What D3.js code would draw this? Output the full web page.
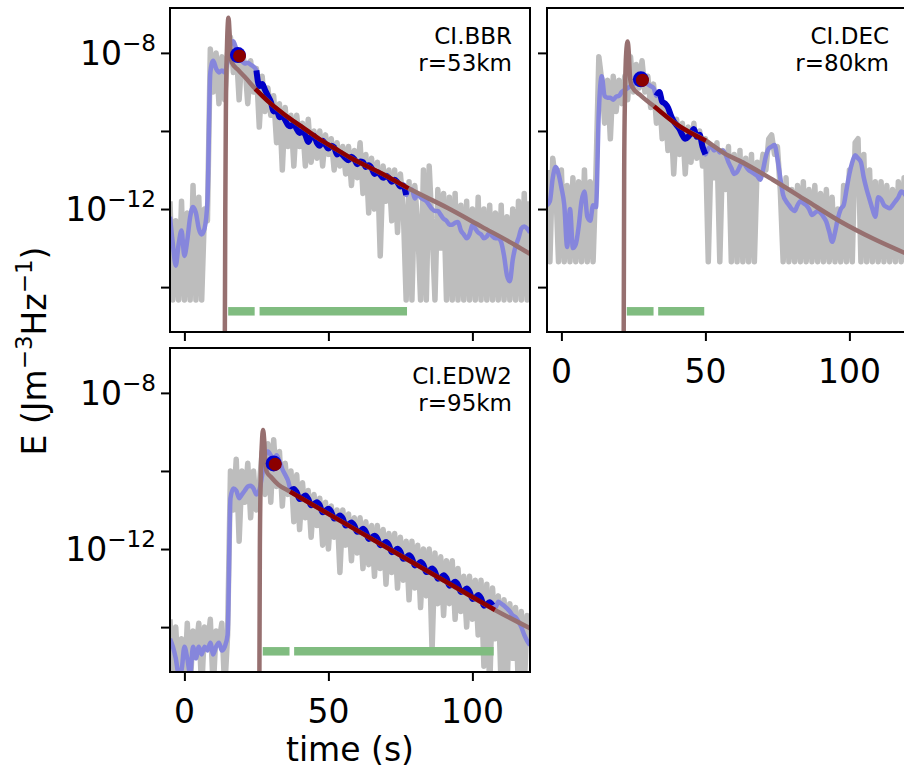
<!DOCTYPE html>
<html><head><meta charset="utf-8">
<script src="https://cdn.jsdelivr.net/npm/d3@7"></script>
<style>
body{margin:0;background:#fff}
svg{display:block}
text{font-family:"DejaVu Sans",sans-serif;fill:#000}
</style>
</head><body>
<svg id="chart" width="904" height="776"></svg>
<script>
// ---------------- DATA ----------------
const timeSec = d3.range(-5, 121);           // sample times (s) for envelopes
const stations = ["CI.BBR", "CI.DEC", "CI.EDW2"];
const distLabels = ["r=53km", "r=80km", "r=95km"];
const xTickValues = [0, 50, 100];
const yTickValues = [1e-8, 1e-10, 1e-12, 1e-14];
const yTickLabelExps = [-8, -12];
const windowBarLevel = 10 ** -14.62;

// log10 of raw envelope E (gray), t = -5..120 s
const bbrRawExp = [
 -11.8,-14.33,-12.3,-14.33,-11.8,-14.33,-12.1,-14.33,-11.4,-14.33,
 -11.7,-14.33,-12.0,-12.3,-7.9,-9.0,-8.0,-9.3,-8.1,-9.2,
 -8.0,-7.6,-8.5,-7.9,-9.2,-8.0,-8.3,-9.3,-8.2,-9.0,
 -8.4,-9.9,-8.6,-9.5,-8.9,-9.6,-9.1,-10.3,-9.3,-11.0,
 -9.4,-10.4,-9.6,-10.9,-9.6,-10.4,-9.8,-10.9,-9.7,-10.8,
 -10.0,-10.7,-10.0,-10.9,-10.1,-10.6,-10.2,-11.0,-10.3,-10.9,
 -10.4,-11.1,-10.4,-11.4,-10.5,-11.2,-10.3,-11.6,-10.6,-12.1,
 -10.7,-12.0,-10.8,-13.2,-10.9,-11.8,-11.0,-12.3,-11.0,-12.6,
 -11.1,-12.0,-14.33,-11.3,-14.33,-11.4,-12.4,-14.33,-11.0,-14.33,
 -10.9,-12.5,-14.33,-11.5,-13.0,-11.6,-14.33,-11.7,-14.33,-11.6,
 -14.33,-11.9,-14.33,-11.8,-14.33,-12.0,-14.33,-11.7,-14.33,-12.0,
 -14.33,-11.9,-14.33,-12.1,-14.33,-11.9,-14.33,-12.2,-14.33,-12.0,
 -14.33,-11.8,-14.33,-11.6,-14.33,-11.8
];
const decRawExp = [
 -11.0,-13.35,-10.7,-11.3,-13.35,-11.0,-13.35,-11.4,-13.35,-11.2,
 -13.35,-11.3,-13.35,-11.0,-13.35,-11.3,-13.35,-11.1,-8.1,-8.7,
 -9.8,-8.7,-10.2,-8.6,-9.5,-8.7,-9.3,-8.6,-9.2,-8.1,
 -9.0,-8.3,-8.9,-8.2,-9.0,-8.6,-9.4,-8.8,-9.8,-9.0,
 -10.2,-9.3,-10.5,-9.6,-11.1,-9.7,-10.6,-9.8,-11.1,-9.9,
 -10.8,-9.8,-10.7,-10.0,-10.9,-10.2,-13.35,-10.4,-11.2,-10.3,
 -13.35,-10.5,-11.5,-10.4,-13.35,-10.6,-13.35,-10.5,-13.35,-10.7,
 -13.35,-10.6,-13.35,-10.8,-11.2,-10.6,-11.0,-10.2,-10.1,-10.6,
 -10.4,-11.5,-13.35,-11.2,-13.35,-11.5,-13.35,-11.4,-13.35,-11.3,
 -13.35,-11.5,-13.35,-11.4,-13.35,-11.6,-13.35,-11.5,-13.35,-11.7,
 -13.35,-12.0,-13.35,-11.4,-13.35,-11.0,-13.35,-10.3,-10.2,-13.35,
 -10.6,-13.35,-11.0,-13.35,-11.3,-13.35,-11.3,-13.35,-11.4,-13.35,
 -11.5,-13.35,-11.3,-13.35,-11.2,-11.5
];
const edwRawExp = [
 -13.8,-15.6,-14.0,-15.6,-14.3,-15.6,-13.9,-15.6,-14.1,-14.6,
 -13.9,-15.6,-14.0,-14.5,-13.8,-15.6,-14.1,-14.4,-13.9,-15.6,
 -14.2,-10.0,-11.0,-9.7,-11.8,-10.0,-10.8,-9.8,-11.2,-10.0,
 -11.0,-10.4,-9.5,-10.6,-9.3,-10.8,-9.2,-10.4,-9.5,-10.9,
 -9.8,-10.6,-10.0,-11.3,-10.1,-11.5,-10.3,-11.2,-10.5,-11.7,
 -10.6,-11.4,-10.7,-11.9,-10.8,-12.0,-10.9,-11.7,-11.0,-12.6,
 -11.0,-11.9,-11.1,-12.3,-11.2,-12.1,-11.2,-12.5,-11.3,-12.4,
 -11.4,-12.7,-11.4,-12.5,-11.5,-12.9,-11.6,-12.6,-11.6,-13.0,
 -11.7,-12.8,-11.8,-13.3,-11.8,-13.0,-11.9,-13.5,-12.0,-13.2,
 -12.0,-14.6,-12.1,-13.4,-12.2,-13.7,-12.3,-13.4,-12.3,-13.8,
 -12.5,-13.6,-12.7,-14.0,-12.7,-13.8,-12.8,-14.2,-12.8,-15.0,
 -12.9,-15.6,-13.0,-14.3,-13.2,-15.6,-13.3,-15.6,-13.4,-14.8,
 -13.5,-15.6,-13.6,-15.6,-13.7,-14.4
];

// log10 of smoothed envelope (blue), t = -5..120 s
const bbrSmoothExp = [
 -12.2,-12.9,-13.45,-12.9,-12.55,-13.2,-12.8,-12.2,-11.95,-12.1,
 -12.5,-12.65,-12.5,-11.8,-8.5,-8.2,-8.4,-8.5,-8.45,-8.5,
 -8.2,-7.8,-7.7,-7.9,-8.05,-8.2,-8.27,-8.25,-8.3,-8.35,
 -8.45,-8.85,-8.8,-8.95,-9.1,-9.25,-9.5,-9.45,-9.65,-9.6,
 -9.72,-9.85,-9.88,-9.8,-9.95,-10.05,-10.0,-10.1,-10.28,-10.15,
 -10.12,-10.3,-10.38,-10.25,-10.35,-10.45,-10.38,-10.42,-10.6,-10.55,
 -10.62,-10.7,-10.75,-10.66,-10.72,-10.85,-10.78,-10.8,-10.92,-10.88,
 -10.95,-11.1,-11.05,-11.12,-11.2,-11.15,-11.2,-11.3,-11.25,-11.32,
 -11.42,-11.4,-11.64,-11.5,-11.5,-11.73,-11.6,-11.7,-11.75,-11.8,
 -11.9,-12.0,-12.05,-12.05,-12.15,-12.25,-12.3,-12.4,-12.4,-12.35,
 -12.33,-12.55,-12.65,-12.75,-12.65,-12.4,-12.5,-12.6,-12.65,-12.75,
 -12.7,-12.6,-12.7,-12.75,-12.75,-12.85,-13.2,-13.7,-13.85,-13.3,
 -12.95,-12.75,-12.5,-12.45,-12.5,-12.6
];
const decSmoothExp = [
 -11.9,-11.8,-11.2,-10.92,-11.1,-11.45,-11.9,-12.97,-12.0,-13.0,
 -12.9,-12.45,-11.8,-11.55,-12.2,-12.3,-11.9,-11.95,-9.5,-8.6,
 -9.1,-9.15,-9.15,-9.2,-9.12,-9.1,-9.0,-8.95,-8.9,-8.85,
 -8.8,-8.75,-8.7,-8.7,-8.75,-8.8,-8.85,-8.9,-9.1,-9.0,
 -9.25,-9.3,-9.4,-9.6,-9.75,-9.85,-9.95,-10.1,-10.2,-10.15,
 -10.05,-9.95,-10.15,-10.1,-10.4,-10.6,-10.45,-10.4,-10.5,-10.45,
 -10.55,-10.5,-10.6,-10.8,-10.95,-11.1,-11.05,-10.9,-10.8,-10.9,
 -11.0,-11.05,-11.1,-11.15,-11.25,-11.0,-10.65,-10.45,-10.4,-10.36,
 -10.7,-11.2,-11.64,-11.8,-11.9,-12.0,-12.05,-11.9,-11.8,-11.85,
 -11.9,-12.0,-12.15,-12.1,-12.05,-12.1,-12.2,-12.33,-12.58,-12.84,
 -12.6,-12.24,-12.0,-11.9,-11.5,-11.1,-10.8,-10.62,-10.7,-10.8,
 -11.2,-11.5,-11.75,-12.0,-12.2,-11.7,-11.75,-11.9,-11.95,-11.98,
 -11.9,-11.8,-11.7,-11.55,-11.6,-11.7
];
const edwSmoothExp = [
 -14.3,-14.5,-14.8,-15.2,-15.1,-14.5,-14.8,-15.2,-14.5,-14.8,
 -14.5,-14.7,-14.5,-14.6,-14.4,-14.7,-14.5,-14.4,-14.6,-14.5,
 -14.2,-10.7,-10.45,-10.5,-10.7,-10.6,-10.5,-10.4,-10.38,-10.45,
 -10.6,-10.5,-10.1,-9.6,-9.5,-9.6,-9.75,-9.6,-9.75,-9.95,
 -10.1,-10.25,-10.5,-10.46,-10.55,-10.72,-10.68,-10.63,-10.72,-10.88,
 -10.85,-10.8,-10.88,-11.06,-11.02,-10.97,-11.05,-11.22,-11.2,-11.14,
 -11.22,-11.4,-11.37,-11.32,-11.4,-11.56,-11.55,-11.48,-11.56,-11.74,
 -11.71,-11.66,-11.73,-11.9,-11.88,-11.82,-11.9,-12.08,-12.05,-11.99,
 -12.07,-12.25,-12.22,-12.16,-12.24,-12.42,-12.4,-12.33,-12.41,-12.59,
 -12.56,-12.5,-12.58,-12.76,-12.74,-12.67,-12.75,-12.94,-12.9,-12.84,
 -12.92,-13.1,-13.08,-13.01,-13.09,-13.28,-13.25,-13.18,-13.26,-13.45,
 -13.42,-13.36,-13.44,-13.5,-13.35,-13.4,-13.45,-13.52,-13.6,-13.7,
 -13.75,-13.86,-14.0,-14.2,-14.35,-14.46
];

// model curves (brown): times and log10 E
const bbrModelT   = [14.0,14.2,14.4,14.8,15.3,15.7,16.1,16.5,18.7,21.0,24.6,29.2,34.9,40.7,46.5,52.3,57.5,68.5,77.8,91.6,103.2,114.8,120];
const bbrModelExp = [-16,-12,-9.5,-7.8,-7.1,-7.5,-8.1,-8.25,-8.44,-8.62,-8.92,-9.25,-9.59,-9.89,-10.19,-10.45,-10.68,-11.09,-11.47,-11.98,-12.45,-12.92,-13.15];
const decModelT   = [21.6,21.8,22.1,22.5,23.0,23.4,23.8,24.4,27.7,32.2,40.4,50.2,57.2,61.7,73.4,85.0,96.4,108.0,120];
const decModelExp = [-16,-11,-9.0,-8.0,-7.71,-8.0,-8.6,-8.85,-9.1,-9.37,-9.85,-10.25,-10.6,-10.76,-11.25,-11.78,-12.3,-12.75,-13.15];
const edwModelT   = [26.0,26.2,26.5,26.9,27.3,27.7,28.1,28.6,30.0,32.6,36.7,57.5,82.4,107.8,120];
const edwModelExp = [-16,-12,-10.2,-9.3,-8.95,-9.2,-9.8,-10.02,-10.15,-10.35,-10.53,-11.42,-12.48,-13.56,-14.03];

// fit windows (s), peak markers [t, log10 E], green window bars [start, end]
const bbrFitWindow = [24.6, 77.8];
const decFitWindow = [32.2, 50.2];
const edwFitWindow = [36.7, 107.8];
const bbrPeak = [19.0, -8.07];
const decPeak = [28.0, -8.69];
const edwPeak = [31.4, -9.82];
const bbrBars = [[15.2, 24.4], [26.1, 77.3]];
const decBars = [[22.7, 32.0], [33.6, 49.6]];
const edwBars = [[27.2, 36.5], [38.1, 107.4]];

// ---------------- DRAW ----------------
const svg = d3.select("#chart");
svg.append("rect").attr("width", 904).attr("height", 776).attr("fill", "#fff");

const panelW = 360, panelH = 324;
const xDomain = [-5, 120];
const yDomain = [10 ** -15.15, 10 ** -6.85];
const C = {
  gray: "#bdbdbd", smooth: "#8686dc", fitBlue: "#0000c8",
  model: "#977070", fit: "#8b0000", bar: "#80bc80"
};

const panels = [
  {name: stations[0], dist: distLabels[0], left: 170, top: 8, raw: bbrRawExp, smooth: bbrSmoothExp,
   mT: bbrModelT, mE: bbrModelExp, fit: bbrFitWindow, peak: bbrPeak, bars: bbrBars, yLab: true, xLab: false},
  {name: stations[1], dist: distLabels[1], left: 547, top: 8, raw: decRawExp, smooth: decSmoothExp,
   mT: decModelT, mE: decModelExp, fit: decFitWindow, peak: decPeak, bars: decBars, yLab: false, xLab: true},
  {name: stations[2], dist: distLabels[2], left: 170, top: 348, raw: edwRawExp, smooth: edwSmoothExp,
   mT: edwModelT, mE: edwModelExp, fit: edwFitWindow, peak: edwPeak, bars: edwBars, yLab: true, xLab: true}
];

function supText(sel, base, sup, fs) {
  sel.append("tspan").text(base);
  sel.append("tspan").attr("font-size", fs * 0.7).attr("dy", -fs * 0.42).text(sup);
}

panels.forEach((p, idx) => {
  const x = d3.scaleLinear().domain(xDomain).range([p.left, p.left + panelW]);
  const y = d3.scaleLog().domain(yDomain).range([p.top + panelH, p.top]);
  const clipId = "clip" + idx;
  svg.append("clipPath").attr("id", clipId).append("rect")
    .attr("x", p.left).attr("y", p.top).attr("width", panelW).attr("height", panelH);
  const g = svg.append("g").attr("clip-path", `url(#${clipId})`);
  const line = d3.line().x(d => x(d[0])).y(d => y(d[1]));
  const smoothLine = d3.line().x(d => x(d[0])).y(d => y(d[1])).curve(d3.curveMonotoneX);

  const rawPts = timeSec.map((t, i) => [t, 10 ** p.raw[i]]);
  const smPts = timeSec.map((t, i) => [t, 10 ** p.smooth[i]]);
  const modelPts = p.mT.map((t, i) => [t, 10 ** p.mE[i]]);
  const fitSm = smPts.filter(d => d[0] >= p.fit[0] && d[0] <= p.fit[1]);
  const fitModel = modelPts.filter(d => d[0] >= p.fit[0] - 1e-9 && d[0] <= p.fit[1] + 1e-9);

  g.append("path").attr("d", line(rawPts)).attr("fill", "none")
    .attr("stroke", C.gray).attr("stroke-width", 5.5).attr("stroke-linejoin", "round");
  g.append("path").attr("d", smoothLine(smPts)).attr("fill", "none")
    .attr("stroke", C.smooth).attr("stroke-width", 4.5).attr("stroke-linejoin", "round");
  g.append("path").attr("d", smoothLine(fitSm)).attr("fill", "none")
    .attr("stroke", C.fitBlue).attr("stroke-width", 6).attr("stroke-linejoin", "round");
  g.append("path").attr("d", smoothLine(modelPts)).attr("fill", "none")
    .attr("stroke", C.model).attr("stroke-width", 4.5);
  g.append("path").attr("d", smoothLine(fitModel)).attr("fill", "none")
    .attr("stroke", C.fit).attr("stroke-width", 4.5);
  g.selectAll("line.bar").data(p.bars).join("line").attr("class", "bar")
    .attr("x1", d => x(d[0])).attr("x2", d => x(d[1]))
    .attr("y1", y(windowBarLevel)).attr("y2", y(windowBarLevel))
    .attr("stroke", C.bar).attr("stroke-width", 8.5);
  g.append("circle").attr("cx", x(p.peak[0]) - 1.2).attr("cy", y(10 ** p.peak[1]) - 0.5)
    .attr("r", 8).attr("fill", "#0000d0");
  g.append("circle").attr("cx", x(p.peak[0]) + 0.4).attr("cy", y(10 ** p.peak[1]) + 0.3)
    .attr("r", 6.5).attr("fill", C.fit);

  // frame
  svg.append("rect").attr("x", p.left).attr("y", p.top).attr("width", panelW).attr("height", panelH)
    .attr("fill", "none").attr("stroke", "#000").attr("stroke-width", 2);

  // axes
  const yAx = svg.append("g").attr("transform", `translate(${p.left},0)`)
    .call(d3.axisLeft(y).tickValues(yTickValues).tickSize(9).tickFormat(""));
  yAx.select(".domain").remove();
  yAx.selectAll("line").attr("stroke", "#000").attr("stroke-width", 2);

  const xAx = svg.append("g").attr("transform", `translate(0,${p.top + panelH})`)
    .call(d3.axisBottom(x).tickValues(xTickValues).tickSize(9).tickFormat(""));
  xAx.select(".domain").remove();
  xAx.selectAll("line").attr("stroke", "#000").attr("stroke-width", 2);

  if (p.xLab) {
    svg.selectAll(null).data(xTickValues).join("text")
      .attr("x", d => x(d)).attr("y", p.top + panelH + 51)
      .attr("text-anchor", "middle").attr("font-size", 33).text(d => d);
  }
  if (p.yLab) {
    yTickLabelExps.forEach(e => {
      const t = svg.append("text").attr("x", p.left - 14).attr("y", y(10 ** e) + 12)
        .attr("text-anchor", "end").attr("font-size", 33);
      supText(t, "10", "\u2212" + Math.abs(e), 33);
    });
  }

  // annotation
  const ann = svg.append("text").attr("text-anchor", "end").attr("font-size", 23);
  ann.append("tspan").attr("x", p.left + panelW - 18).attr("y", p.top + 36).text(p.name);
  ann.append("tspan").attr("x", p.left + panelW - 18).attr("y", p.top + 63).text(p.dist);
});

// axis labels
svg.append("text").attr("x", 350).attr("y", 761).attr("text-anchor", "middle")
  .attr("font-size", 33).text("time (s)");
const yl = svg.append("text").attr("transform", "translate(46,351) rotate(-90)")
  .attr("text-anchor", "middle").attr("font-size", 33);
yl.append("tspan").text("E (Jm");
yl.append("tspan").attr("font-size", 23).attr("dy", -14).text("\u22123");
yl.append("tspan").attr("dy", 14).text("Hz");
yl.append("tspan").attr("font-size", 23).attr("dy", -14).text("\u22121");
yl.append("tspan").attr("dy", 14).text(")");
</script>
</body></html>
